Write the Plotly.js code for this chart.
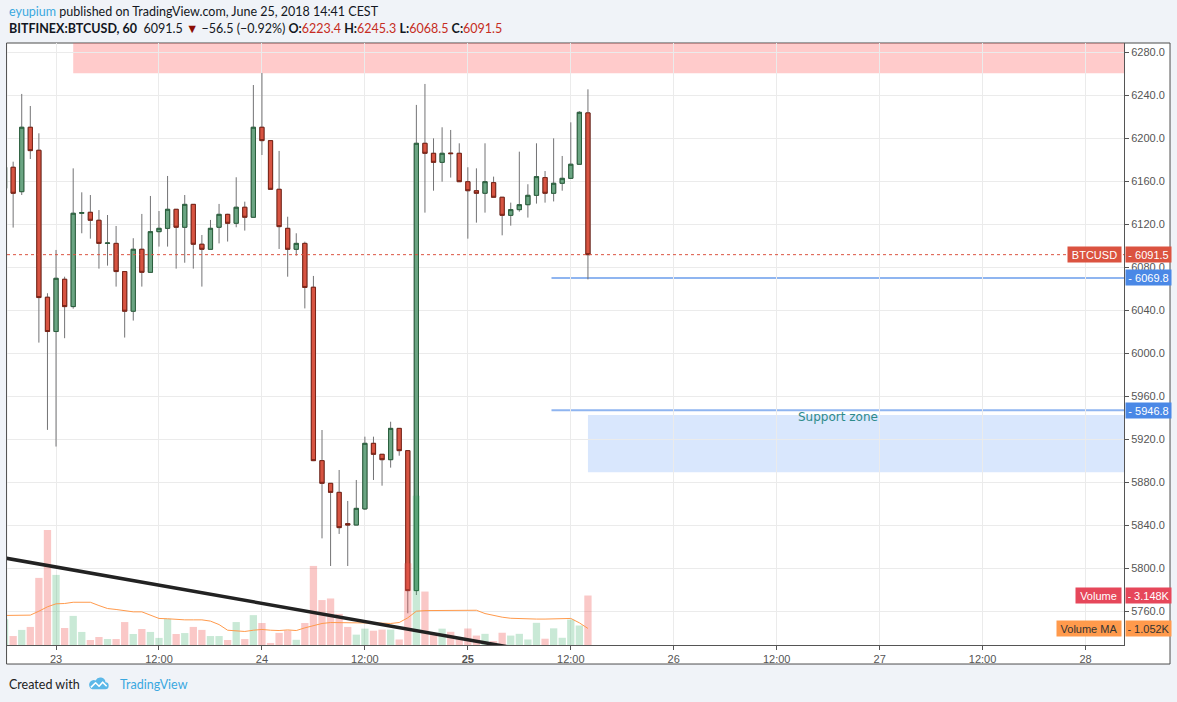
<!DOCTYPE html>
<html><head><meta charset="utf-8">
<script src="https://cdn.plot.ly/plotly-3.0.1.min.js"></script>
<style>html,body{margin:0;padding:0;background:#f0f3f8;}#chart{width:1177px;height:702px;}</style>
</head><body><div id="chart"></div>
<script>
// ---- DATA ----
const times = [
 '2018-06-22 18:00','2018-06-22 19:00','2018-06-22 20:00','2018-06-22 21:00','2018-06-22 22:00','2018-06-22 23:00',
 '2018-06-23 00:00','2018-06-23 01:00','2018-06-23 02:00','2018-06-23 03:00','2018-06-23 04:00','2018-06-23 05:00',
 '2018-06-23 06:00','2018-06-23 07:00','2018-06-23 08:00','2018-06-23 09:00','2018-06-23 10:00','2018-06-23 11:00',
 '2018-06-23 12:00','2018-06-23 13:00','2018-06-23 14:00','2018-06-23 15:00','2018-06-23 16:00','2018-06-23 17:00',
 '2018-06-23 18:00','2018-06-23 19:00','2018-06-23 20:00','2018-06-23 21:00','2018-06-23 22:00','2018-06-23 23:00',
 '2018-06-24 00:00','2018-06-24 01:00','2018-06-24 02:00','2018-06-24 03:00','2018-06-24 04:00','2018-06-24 05:00',
 '2018-06-24 06:00','2018-06-24 07:00','2018-06-24 08:00','2018-06-24 09:00','2018-06-24 10:00','2018-06-24 11:00',
 '2018-06-24 12:00','2018-06-24 13:00','2018-06-24 14:00','2018-06-24 15:00','2018-06-24 16:00','2018-06-24 17:00',
 '2018-06-24 18:00','2018-06-24 19:00','2018-06-24 20:00','2018-06-24 21:00','2018-06-24 22:00','2018-06-24 23:00',
 '2018-06-25 00:00','2018-06-25 01:00','2018-06-25 02:00','2018-06-25 03:00','2018-06-25 04:00','2018-06-25 05:00',
 '2018-06-25 06:00','2018-06-25 07:00','2018-06-25 08:00','2018-06-25 09:00','2018-06-25 10:00','2018-06-25 11:00',
 '2018-06-25 12:00','2018-06-25 13:00','2018-06-25 14:00'
];
const open = [
 6153.2,6172.8,6150.1,6210.0,6188.6,6051.9,
 6020.0,6068.6,6043.2,6130.0,6130.9,6123.5,6102.0,6102.0,6075.8,6038.9,6096.5,6075.1,
 6112.9,6116.0,6133.7,6117.0,6138.3,6101.2,6096.5,6117.0,6129.0,6120.7,6135.6,6126.3,
 6210.0,6197.6,6152.3,6116.0,6096.5,6102.0,6061.2,5899.9,5878.8,5870.4,5841.3,5840.0,
 5855.0,5916.0,5905.8,5900.8,5929.9,5909.2,5779.0,6195.1,6185.8,6177.4,6186.0,6185.8,
 6159.4,6151.0,6148.6,6158.5,6144.9,6128.1,6133.4,6138.0,6146.7,6163.2,6148.6,6157.9,
 6162.5,6175.6,6223.4
];
const high = [
 6176.0,6178.0,6241.0,6229.8,6204.4,6055.6,
 6095.9,6071.0,6171.8,6149.5,6147.0,6133.0,6128.4,6118.2,6075.8,6106.8,6129.4,6146.1,
 6132.1,6164.7,6133.7,6147.0,6138.3,6109.8,6123.8,6138.7,6129.5,6163.5,6140.8,6249.3,
 6260.5,6197.6,6188.0,6126.8,6111.4,6103.6,6071.7,5928.4,5878.8,5891.2,5862.4,5881.9,
 5922.2,5922.2,5905.8,5936.1,5929.9,5909.2,6230.8,6250.3,6199.7,6210.0,6207.5,6195.1,
 6172.8,6171.8,6195.1,6164.1,6145.0,6139.9,6187.3,6157.0,6195.1,6169.3,6199.7,6183.3,
 6214.6,6225.0,6245.3
];
const low = [
 6150.0,6116.7,6147.0,6180.5,6009.7,5928.5,
 5913.0,6013.8,6041.3,6111.4,6106.4,6078.5,6081.3,6061.8,6014.4,6030.2,6061.8,6075.1,
 6099.0,6099.0,6078.5,6084.0,6078.5,6061.8,6096.5,6102.0,6103.7,6117.0,6113.9,6126.3,
 6184.2,6152.0,6096.8,6071.0,6090.6,6041.5,5899.5,5827.6,5801.9,5831.7,5801.9,5840.0,
 5854.0,5881.9,5876.6,5893.4,5904.5,5757.9,5774.9,6130.6,6151.0,6159.4,6163.2,6159.4,
 6106.4,6121.3,6130.6,6144.9,6109.5,6118.5,6131.5,6126.0,6139.0,6139.9,6141.0,6151.0,
 6162.5,6175.6,6068.5
];
const close = [
 6172.8,6148.6,6210.0,6188.3,6051.6,6020.0,
 6069.5,6043.2,6130.0,6130.6,6123.5,6102.0,6102.3,6075.8,6038.9,6096.5,6075.1,6112.9,
 6116.0,6133.7,6117.0,6138.3,6101.2,6096.5,6116.0,6129.0,6120.7,6135.6,6126.3,6210.0,
 6197.6,6152.3,6117.6,6096.5,6102.0,6061.0,5899.9,5878.8,5870.4,5837.6,5840.0,5855.5,
 5916.0,5905.8,5900.8,5929.9,5909.2,5779.0,6195.1,6185.8,6177.4,6185.8,6185.5,6159.4,
 6151.0,6148.6,6159.4,6144.9,6128.1,6133.4,6138.0,6146.7,6164.1,6148.6,6157.9,6162.5,
 6175.6,6223.9,6091.5
];
// volume in thousands
const volumeK = [
 1.64,0.57,0.96,1.15,4.27,7.32,
 4.46,1.08,1.85,0.83,0.32,0.51,0.38,0.38,1.46,0.70,1.02,0.83,
 0.45,1.66,0.70,0.76,1.15,0.96,0.57,0.57,0.32,1.46,0.38,1.90,
 1.40,0.13,0.77,0.92,0.33,1.40,5.03,2.86,2.96,1.98,1.15,0.66,
 1.04,0.91,0.98,0.98,0.35,5.20,9.50,3.40,0.66,1.04,0.84,0.46,
 1.05,0.60,0.71,0.25,0.78,0.60,0.71,0.35,1.41,0.40,1.06,0.46,
 1.62,1.24,3.148
];
const volumeMAK = [
 1.88,1.88,1.90,1.90,2.15,2.43,
 2.62,2.64,2.72,2.74,2.72,2.51,2.32,2.26,2.19,2.11,2.11,1.90,
 1.69,1.67,1.62,1.60,1.60,1.60,1.52,1.30,0.94,0.88,0.86,0.94,
 0.99,0.94,0.92,0.96,0.92,1.09,1.24,1.37,1.43,1.43,1.43,1.43,
 1.41,1.41,1.39,1.37,1.43,1.73,2.15,2.19,2.19,2.21,2.21,2.21,
 2.21,2.21,2.00,1.88,1.77,1.70,1.67,1.65,1.65,1.65,1.65,1.65,
 1.69,1.41,1.052
];
const xTickLabels = ['23','12:00','24','12:00','25','12:00','26','12:00','27','12:00','28'];
const resistanceStart = '2018-06-23 02:00', resistanceLow = 6260.2, resistanceHigh = 6300;
const supportStart = '2018-06-25 14:00', supportLow = 5889.0, supportHigh = 5942.3;
const levelStart = '2018-06-25 09:45';
const levels = [6069.8, 5946.8];
const trendTimes = ['2018-06-22 18:00', '2018-06-25 08:00'];
const trendPrices = [5809.4, 5722.0];
const change = '−56.5', changePct = '−0.92%';

// ---- DERIVED ----
const n = close.length;
const lastO = open[n-1], lastH = high[n-1], lastL = low[n-1], lastC = close[n-1];
const bodyHigh = open.map((o,i)=>Math.max(o, close[i]));
const bodyLow = open.map((o,i)=>Math.min(o, close[i]));
const volColors = close.map((c,i)=> c >= open[i] ? 'rgba(38,166,91,0.25)' : 'rgba(239,83,80,0.32)');
const t0 = Date.UTC(2018,5,23);
const tickvals = xTickLabels.map((_,i)=> new Date(t0 + i*43200000).toISOString().slice(0,16).replace('T',' '));
const ticktext = xTickLabels.map(l => l === '25' ? '<b>'+l+'</b>' : l);
const xEnd = '2018-06-28 04:29';

const traces = [
 {type:'candlestick', x:times, open:open, high:high, low:low, close:close,
  increasing:{line:{color:'#737375', width:1}, fillcolor:'#737375'},
  decreasing:{line:{color:'#737375', width:1}, fillcolor:'#737375'},
  hoverinfo:'skip', xaxis:'x', yaxis:'y'},
 {type:'candlestick', x:times, open:open, high:bodyHigh, low:bodyLow, close:close,
  increasing:{line:{color:'#2a5f3d', width:1}, fillcolor:'#6ba583'},
  decreasing:{line:{color:'#7a2417', width:1}, fillcolor:'#d75442'},
  hoverinfo:'skip', xaxis:'x', yaxis:'y'},
 {type:'bar', x:times, y:volumeK, marker:{color:volColors, line:{width:0}}, xaxis:'x', yaxis:'y2', hoverinfo:'skip'},
 {type:'scatter', mode:'lines', x:times, y:volumeMAK, line:{color:'#ff9a4c', width:1}, xaxis:'x', yaxis:'y2', hoverinfo:'skip'}
];

function rightBox(text, yref, y, bg, fg){
 return {xref:'paper', x:1, xanchor:'left', xshift:1, yref:yref, y:y, yanchor:'middle',
  text:text, showarrow:false, bgcolor:bg, borderpad:2, width:41, height:11, align:'center',
  font:{family:'Liberation Sans, Arial, sans-serif', size:11, color:fg}};
}
function leftBox(text, yref, y, bg, fg, w){
 return {xref:'paper', x:1, xanchor:'right', xshift:-2, yref:yref, y:y, yanchor:'middle',
  text:text, showarrow:false, bgcolor:bg, borderpad:2, width:w, height:11, align:'center',
  font:{family:'Liberation Sans, Arial, sans-serif', size:11, color:fg}};
}
const hdrFont = {family:'Lato, sans-serif', size:12.5, color:'#131722'};
const red = '#c62c22';
const header2 = '<b>BITFINEX:BTCUSD, 60</b>  ' + lastC.toFixed(1) + ' <span style="color:#8b0d05">▼</span> ' + change + ' (' + changePct + ') ' +
 '<b>O:</b><span style="color:'+red+'">'+lastO.toFixed(1)+'</span> <b>H:</b><span style="color:'+red+'">'+lastH.toFixed(1)+'</span> ' +
 '<b>L:</b><span style="color:'+red+'">'+lastL.toFixed(1)+'</span> <b>C:</b><span style="color:'+red+'">'+lastC.toFixed(1)+'</span>';

const annotations = [
 {xref:'paper', yref:'paper', x:0, y:1.0515, xanchor:'left', yanchor:'middle', showarrow:false, align:'left',
  text:'<span style="color:#3ba9e0">eyupium</span> published on TradingView.com, June 25, 2018 14:41 CEST', font:hdrFont},
 {xref:'paper', yref:'paper', x:0, y:1.0233, xanchor:'left', yanchor:'middle', showarrow:false, align:'left',
  text:header2, font:hdrFont},
 {xref:'paper', yref:'paper', x:0, y:-0.0664, xanchor:'left', yanchor:'middle', showarrow:false,
  text:'Created with', font:{family:'Lato, sans-serif', size:12.5, color:'#222'}},
 {xref:'paper', yref:'paper', x:0.0994, y:-0.0664, xanchor:'left', yanchor:'middle', showarrow:false,
  text:'TradingView', font:{family:'Lato, sans-serif', size:12.5, color:'#3aa8e0'}},
 {xref:'paper', x:0.744, xanchor:'center', yref:'y', y:supportHigh, yanchor:'middle', yshift:-2, showarrow:false,
  text:'Support zone', font:{family:'DejaVu Sans, sans-serif', size:12, color:'#2e8b8b'}},
 leftBox('BTCUSD','y',lastC,'#db5340','#ffffff',49),
 rightBox('- '+lastC.toFixed(1),'y',lastC,'#db5340','#ffffff'),
 rightBox('- '+levels[0].toFixed(1),'y',levels[0],'#4a88e6','#ffffff'),
 rightBox('- '+levels[1].toFixed(1),'y',levels[1],'#4a88e6','#ffffff'),
 leftBox('Volume','y2',volumeK[n-1],'#e6475a','#ffffff',41),
 rightBox('- '+volumeK[n-1].toFixed(3)+'K','y2',volumeK[n-1],'#e6475a','#ffffff'),
 leftBox('Volume MA','y2',volumeMAK[n-1],'#ff9a4c','#333333',60),
 rightBox('- '+volumeMAK[n-1].toFixed(3)+'K','y2',volumeMAK[n-1],'#ff9a4c','#333333')
];

const shapes = [
 {type:'rect', xref:'paper', yref:'paper', x0:-0.0004, x1:1.0412, y0:-0.0316, y1:1.0, fillcolor:'#ffffff', line:{color:'#4d4d4d', width:1}, layer:'below'},
 {type:'rect', xref:'x', yref:'y', x0:resistanceStart, x1:'2018-06-29 00:00', y0:resistanceLow, y1:resistanceHigh, fillcolor:'rgba(255,82,82,0.3)', line:{width:0}, layer:'below'},
 {type:'rect', xref:'x', yref:'y', x0:supportStart, x1:'2018-06-29 00:00', y0:supportLow, y1:supportHigh, fillcolor:'rgba(66,133,244,0.2)', line:{width:0}, layer:'below'},
 {type:'line', xref:'x', yref:'y', x0:levelStart, x1:'2018-06-29 00:00', y0:levels[0], y1:levels[0], line:{color:'#8fb5f0', width:2}, layer:'below'},
 {type:'line', xref:'x', yref:'y', x0:levelStart, x1:'2018-06-29 00:00', y0:levels[1], y1:levels[1], line:{color:'#8fb5f0', width:2}, layer:'below'},
 {type:'line', xref:'paper', yref:'y', x0:0, x1:1, y0:lastC, y1:lastC, line:{color:'#db5340', width:1, dash:'dot'}, layer:'above'},
 {type:'line', xref:'x', yref:'y', x0:trendTimes[0], x1:trendTimes[1], y0:trendPrices[0], y1:trendPrices[1], line:{color:'#222222', width:3.5}, layer:'above'}
];

const logoSvg = '<svg xmlns="http://www.w3.org/2000/svg" viewBox="0 0 36 24"><path d="M7 22 H29 A6 6 0 0 0 30 10 A9 9 0 0 0 13 7 A7 7 0 0 0 7 22 Z" fill="#5cb8e8"/><polyline points="5,19 13,11 19,17 25,10 32,17" fill="none" stroke="#ffffff" stroke-width="2.6" stroke-linejoin="round"/></svg>';

const layout = {
 width:1177, height:702,
 margin:{l:7, r:53, t:43, b:57, pad:0},
 paper_bgcolor:'#f0f3f8', plot_bgcolor:'#ffffff',
 showlegend:false, hovermode:false, dragmode:false,
 boxgap:0.3, bargap:0.15,
 font:{family:'Liberation Sans, Arial, sans-serif', size:11, color:'#555555'},
 xaxis:{type:'date', range:['2018-06-22 18:17', xEnd], tickmode:'array', tickvals:tickvals, ticktext:ticktext,
  showgrid:true, gridcolor:'#ebebeb', gridwidth:1, showline:true, linecolor:'#555555', linewidth:1,
  ticks:'outside', ticklen:4, tickcolor:'#555555', zeroline:false, rangeslider:{visible:false},
  tickfont:{family:'Liberation Sans, Arial, sans-serif', size:11, color:'#555555'}, fixedrange:true},
 yaxis:{side:'right', range:[5728.4, 6288.4], tick0:0, dtick:40, tickformat:'.1f',
  showgrid:true, gridcolor:'#ebebeb', gridwidth:1, showline:true, linecolor:'#555555', linewidth:1,
  ticks:'outside', ticklen:4, tickcolor:'#555555', zeroline:false,
  tickfont:{family:'Liberation Sans, Arial, sans-serif', size:11, color:'#555555'}, fixedrange:true},
 yaxis2:{overlaying:'y', range:[0, 38.3], visible:false, showgrid:false, zeroline:false, fixedrange:true},
 shapes:shapes, annotations:annotations,
 images:[{source:'data:image/svg+xml;charset=utf-8,'+encodeURIComponent(logoSvg), xref:'paper', yref:'paper',
  x:0.0725, y:-0.052, sizex:0.0188, sizey:0.0233, xanchor:'left', yanchor:'top', sizing:'stretch', layer:'above'}]
};

Plotly.newPlot('chart', traces, layout, {displayModeBar:false, staticPlot:true});
</script>
</body></html>
